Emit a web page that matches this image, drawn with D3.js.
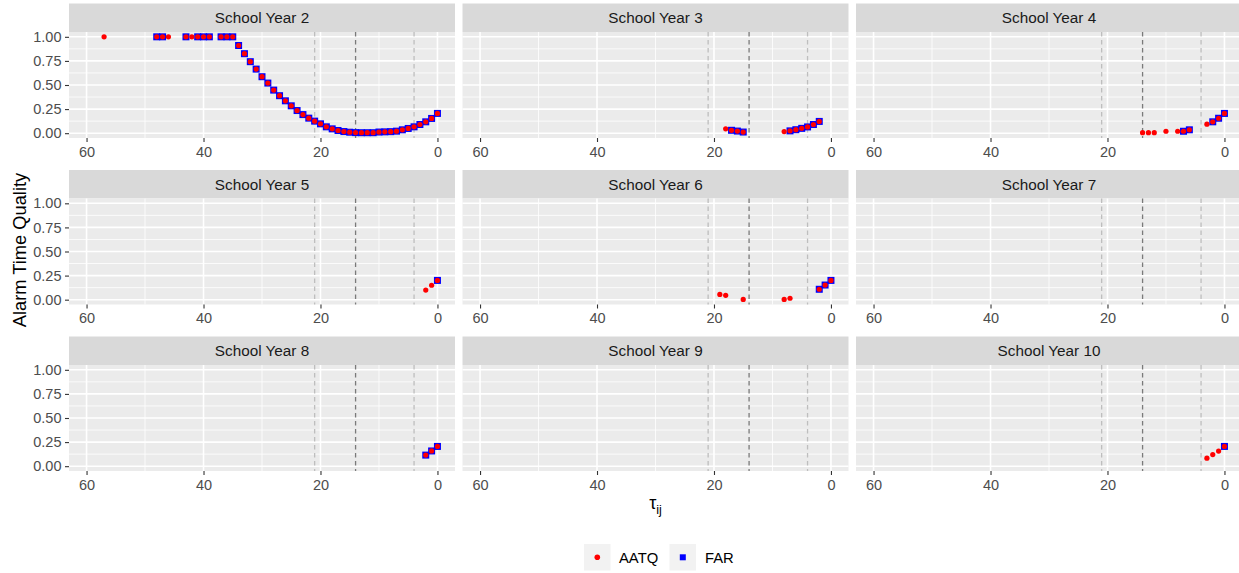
<!DOCTYPE html>
<html>
<head>
<meta charset="utf-8">
<script src="https://cdn.jsdelivr.net/npm/d3@7"></script>
<style>
  body { margin: 0; background: #fff; }
  svg { display: block; font-family: Arial, "Liberation Sans", sans-serif; }
</style>
</head>
<body>
<svg class="chart"></svg>
<script>
// facet titles
let years = ["School Year 2", "School Year 3", "School Year 4",
             "School Year 5", "School Year 6", "School Year 7",
             "School Year 8", "School Year 9", "School Year 10"];

// axis breaks
let xTicks = [60, 40, 20, 0];
let xMinor = [50, 30, 10];
let yTicks = [0, 0.25, 0.5, 0.75, 1];
let yMinor = [0.125, 0.375, 0.625, 0.875];

// dashed reference lines (tau)
let refLight = [21, 4];
let refDark = [14];

// series per school year: tau, AATQ, FAR (null = no point)
let year2Tau  = [57, 48, 47, 46, 43, 42, 41, 40, 39, 37, 36, 35,
                 34, 33, 32, 31, 30, 29, 28, 27, 26, 25, 24, 23, 22, 21, 20, 19, 18,
                 17, 16, 15, 14, 13, 12, 11, 10, 9, 8, 7, 6, 5, 4, 3, 2, 1, 0];
let year2Aatq = [1, 1, 1, 1, 1, 1, 1, 1, 1, 1, 1, 1,
                 0.91, 0.825, 0.742, 0.665, 0.586, 0.52, 0.447, 0.389, 0.336, 0.284, 0.235, 0.193, 0.156, 0.125, 0.097, 0.066, 0.045,
                 0.028, 0.017, 0.01, 0.006, 0.005, 0.005, 0.005, 0.012, 0.014, 0.016, 0.021, 0.035, 0.049, 0.066, 0.09, 0.118, 0.153, 0.205];
let year2Far  = [null, 1, 1, null, 1, null, 1, 1, 1, 1, 1, 1,
                 0.91, 0.825, 0.742, 0.665, 0.586, 0.52, 0.447, 0.389, 0.336, 0.284, 0.235, 0.193, 0.156, 0.125, 0.097, 0.066, 0.045,
                 0.028, 0.017, 0.01, 0.006, 0.005, 0.005, 0.005, 0.012, 0.014, 0.016, 0.021, 0.035, 0.049, 0.066, 0.09, 0.118, 0.153, 0.205];

let year3Tau  = [18, 17, 16, 15, 8, 7, 6, 5, 4, 3, 2];
let year3Aatq = [0.045, 0.03, 0.022, 0.012, 0.017, 0.024, 0.036, 0.05, 0.065, 0.09, 0.122];
let year3Far  = [null, 0.03, 0.022, 0.012, null, 0.024, 0.036, 0.05, 0.065, 0.09, 0.122];

let year4Tau  = [14, 13, 12, 10, 8, 7, 6, 3, 2, 1, 0];
let year4Aatq = [0.005, 0.005, 0.005, 0.02, 0.02, 0.02, 0.035, 0.093, 0.118, 0.155, 0.205];
let year4Far  = [null, null, null, null, null, 0.02, 0.035, null, 0.118, 0.155, 0.205];

let year5Tau  = [2, 1, 0];
let year5Aatq = [0.1, 0.15, 0.2];
let year5Far  = [null, null, 0.2];

let year6Tau  = [19, 18, 15, 8, 7, 2, 1, 0];
let year6Aatq = [0.055, 0.045, 0.003, 0.003, 0.015, 0.108, 0.152, 0.2];
let year6Far  = [null, null, null, null, null, 0.108, 0.152, 0.2];

let year7Tau  = [];
let year7Aatq = [];
let year7Far  = [];

let year8Tau  = [2, 1, 0];
let year8Aatq = [0.115, 0.158, 0.205];
let year8Far  = [0.115, 0.158, 0.205];

let year9Tau  = [];
let year9Aatq = [];
let year9Far  = [];

let year10Tau  = [3, 2, 1, 0];
let year10Aatq = [0.083, 0.12, 0.157, 0.205];
let year10Far  = [null, null, null, 0.205];

let panels = [
    [year2Tau, year2Aatq, year2Far], [year3Tau, year3Aatq, year3Far], [year4Tau, year4Aatq, year4Far],
    [year5Tau, year5Aatq, year5Far], [year6Tau, year6Aatq, year6Far], [year7Tau, year7Aatq, year7Far],
    [year8Tau, year8Aatq, year8Far], [year9Tau, year9Aatq, year9Far], [year10Tau, year10Aatq, year10Far]
].map((s, i) => ({
    title: years[i],
    aatq: s[0].map((t, j) => ({tau: t, v: s[1][j]})).filter(d => d.v !== null),
    far: s[0].map((t, j) => ({tau: t, v: s[2][j]})).filter(d => d.v !== null)
}));

let createChart = () => {
    let svg = d3.select('.chart')
                .attr('width', 1239)
                .attr('height', 573);

    svg.append('rect')
       .attr('width', 1239)
       .attr('height', 573)
       .attr('fill', '#ffffff');

    let colLeft = [69, 462.5, 856];
    let rowTop = [3.5, 170, 336.5];
    let panelW = 386, stripH = 28.5, panelH = 106;

    let xScale = d3.scaleLinear().domain([63, -3]).range([0, panelW]);
    let yScale = d3.scaleLinear().domain([-0.05, 1.05]).range([panelH, 0]);

    panels.forEach((p, i) => {
        let col = i % 3, row = Math.floor(i / 3);
        let g = svg.append('g')
                   .attr('transform', `translate(${colLeft[col]},${rowTop[row]})`);

        // strip
        g.append('rect')
         .attr('width', panelW)
         .attr('height', stripH)
         .attr('fill', '#D9D9D9');
        g.append('text')
         .attr('x', panelW / 2)
         .attr('y', stripH / 2 + 5.4)
         .attr('text-anchor', 'middle')
         .attr('fill', '#1A1A1A')
         .style('font-size', '15.3px')
         .text(p.title);

        let pg = g.append('g')
                  .attr('transform', `translate(0,${stripH})`);

        pg.append('rect')
          .attr('width', panelW)
          .attr('height', panelH)
          .attr('fill', '#EBEBEB');

        // grid
        pg.selectAll('.vminor').data(xMinor).enter().append('line')
          .attr('x1', d => xScale(d)).attr('x2', d => xScale(d))
          .attr('y1', 0).attr('y2', panelH)
          .attr('stroke', '#ffffff').attr('stroke-width', 0.8);
        pg.selectAll('.hminor').data(yMinor).enter().append('line')
          .attr('x1', 0).attr('x2', panelW)
          .attr('y1', d => yScale(d)).attr('y2', d => yScale(d))
          .attr('stroke', '#ffffff').attr('stroke-width', 0.8);
        pg.selectAll('.vmajor').data(xTicks).enter().append('line')
          .attr('x1', d => xScale(d)).attr('x2', d => xScale(d))
          .attr('y1', 0).attr('y2', panelH)
          .attr('stroke', '#ffffff').attr('stroke-width', 1.6);
        pg.selectAll('.hmajor').data(yTicks).enter().append('line')
          .attr('x1', 0).attr('x2', panelW)
          .attr('y1', d => yScale(d)).attr('y2', d => yScale(d))
          .attr('stroke', '#ffffff').attr('stroke-width', 1.6);

        // reference lines
        pg.selectAll('.refl').data(refLight).enter().append('line')
          .attr('x1', d => xScale(d)).attr('x2', d => xScale(d))
          .attr('y1', 0).attr('y2', panelH)
          .attr('stroke', '#BEBEBE').attr('stroke-width', 1.3)
          .attr('stroke-dasharray', '4.5,3.5');
        pg.selectAll('.refd').data(refDark).enter().append('line')
          .attr('x1', d => xScale(d)).attr('x2', d => xScale(d))
          .attr('y1', 0).attr('y2', panelH)
          .attr('stroke', '#7A7A7A').attr('stroke-width', 1.3)
          .attr('stroke-dasharray', '4.5,3.5');

        // points
        pg.selectAll('.far').data(p.far).enter().append('rect')
          .attr('x', d => xScale(d.tau) - 3.5)
          .attr('y', d => yScale(d.v) - 3.5)
          .attr('width', 7)
          .attr('height', 7)
          .attr('fill', 'blue');
        pg.selectAll('.aatq').data(p.aatq).enter().append('circle')
          .attr('cx', d => xScale(d.tau))
          .attr('cy', d => yScale(d.v))
          .attr('r', 2.6)
          .attr('fill', 'red');

        // axes
        let xAxis = pg.append('g')
                      .attr('transform', `translate(0,${panelH})`)
                      .call(d3.axisBottom(xScale).tickValues(xTicks).tickSize(4).tickPadding(4.5));
        styleAxis(xAxis);

        if (col === 0) {
            let yAxis = pg.append('g')
                          .call(d3.axisLeft(yScale).tickValues(yTicks).tickSize(4).tickPadding(3.5)
                                  .tickFormat(d3.format('.2f')));
            styleAxis(yAxis);
        }
    });

    // axis titles
    let xTitle = svg.append('text')
                    .attr('x', 655.5)
                    .attr('y', 509)
                    .attr('text-anchor', 'middle')
                    .attr('fill', '#000000')
                    .style('font-size', '18px');
    xTitle.append('tspan').text('τ');
    xTitle.append('tspan').attr('dy', 5).style('font-size', '12.5px').text('ij');

    svg.append('text')
       .attr('transform', 'translate(25.5,250) rotate(-90)')
       .attr('text-anchor', 'middle')
       .attr('fill', '#000000')
       .style('font-size', '18.3px')
       .text('Alarm Time Quality');

    // legend
    let legend = svg.append('g').attr('id', 'legend');

    legend.append('rect')
          .attr('x', 584).attr('y', 544)
          .attr('width', 26.5).attr('height', 26.5)
          .attr('fill', '#F2F2F2');
    legend.append('circle')
          .attr('cx', 597.3).attr('cy', 557.3)
          .attr('r', 2.8)
          .attr('fill', 'red');
    legend.append('text')
          .attr('x', 619).attr('y', 562.5)
          .style('font-size', '14.8px')
          .attr('fill', '#000000')
          .text('AATQ');

    legend.append('rect')
          .attr('x', 669.5).attr('y', 544)
          .attr('width', 26.5).attr('height', 26.5)
          .attr('fill', '#F2F2F2');
    legend.append('rect')
          .attr('x', 679.8).attr('y', 554.3)
          .attr('width', 6).attr('height', 6)
          .attr('fill', 'blue');
    legend.append('text')
          .attr('x', 705).attr('y', 562.5)
          .style('font-size', '14.8px')
          .attr('fill', '#000000')
          .text('FAR');
};

let styleAxis = (axis) => {
    axis.attr('font-family', null).attr('font-size', null);
    axis.select('.domain').remove();
    axis.selectAll('.tick line')
        .attr('stroke', '#333333')
        .attr('stroke-width', 1.1);
    axis.selectAll('.tick text')
        .attr('fill', '#4D4D4D')
        .style('font-size', '14.5px');
};

createChart();
</script>
</body>
</html>
